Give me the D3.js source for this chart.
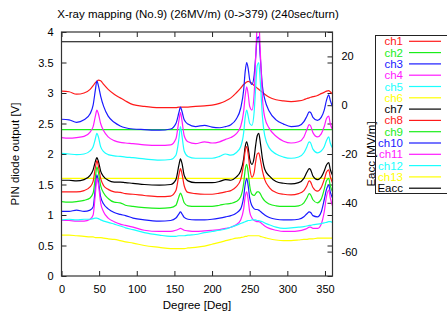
<!DOCTYPE html>
<html>
<head>
<meta charset="utf-8">
<script src="https://cdn.jsdelivr.net/npm/d3@7"></script>
<style>
  body { margin: 0; background: #fff; }
  svg { font-family: "Liberation Sans", Arial, sans-serif; }
  .tick text { font-size: 11px; fill: #000; }
</style>
</head>
<body>
<svg id="chart" width="447" height="312"></svg>
<script>
// degree positions shared by the measured channels
const degrees = [
  0, 10, 20, 30, 38, 42, 45, 47, 49, 52,
  56, 62, 70, 78, 85, 95, 110, 130, 145, 152,
  156, 158, 160, 163, 168, 178, 190, 200, 210, 218,
  225, 232, 238, 242, 244, 246, 248, 250, 253, 256,
  258, 260, 262, 264, 267, 270, 276, 285, 295, 305,
  315, 322, 326, 329, 331, 334, 340, 345, 349, 352,
  355, 357, 360];

const ch1 = [
  3.03, 3.02, 2.98, 3.00, 3.06, 3.12, 3.17, 3.19, 3.21, 3.20,
  3.14, 3.06, 2.98, 2.92, 2.87, 2.81, 2.78, 2.76, 2.76, 2.76,
  2.77, 2.77, 2.77, 2.77, 2.77, 2.78, 2.79, 2.80, 2.83, 2.87,
  2.92, 3.00, 3.08, 3.14, 3.16, 3.18, 3.19, 3.18, 3.16, 3.12,
  3.10, 3.08, 3.06, 3.04, 3.01, 2.98, 2.93, 2.89, 2.87, 2.86,
  2.87, 2.89, 2.91, 2.92, 2.93, 2.94, 2.96, 2.99, 3.01, 3.03,
  3.04, 3.02, 2.98];
const ch3 = [
  2.57, 2.56, 2.52, 2.56, 2.66, 2.80, 3.05, 3.20, 3.12, 2.95,
  2.78, 2.62, 2.52, 2.46, 2.43, 2.41, 2.40, 2.39, 2.41, 2.50,
  2.68, 2.77, 2.70, 2.56, 2.49, 2.45, 2.47, 2.44, 2.43, 2.45,
  2.48, 2.57, 2.75, 3.05, 3.35, 3.50, 3.40, 3.22, 3.14, 3.30,
  3.60, 3.90, 3.92, 3.60, 3.10, 2.90, 2.70, 2.56, 2.49, 2.45,
  2.46, 2.53, 2.62, 2.69, 2.68, 2.60, 2.55, 2.60, 2.72, 2.88,
  2.97, 2.88, 2.78];
const ch4 = [
  2.27, 2.26, 2.27, 2.29, 2.36, 2.45, 2.62, 2.72, 2.66, 2.50,
  2.38, 2.28, 2.22, 2.19, 2.18, 2.17, 2.15, 2.14, 2.15, 2.25,
  2.55, 2.68, 2.55, 2.30, 2.20, 2.17, 2.20, 2.18, 2.20, 2.24,
  2.27, 2.33, 2.45, 2.70, 2.95, 3.10, 2.98, 2.78, 2.72, 3.00,
  3.60, 4.10, 4.20, 3.70, 2.90, 2.60, 2.42, 2.29, 2.21, 2.18,
  2.20, 2.28, 2.40, 2.48, 2.46, 2.35, 2.28, 2.33, 2.45, 2.58,
  2.62, 2.50, 2.40];
const ch5 = [
  2.01, 2.00, 1.99, 2.00, 2.05, 2.12, 2.25, 2.34, 2.28, 2.12,
  2.04, 1.99, 1.97, 1.96, 1.95, 1.94, 1.92, 1.90, 1.91, 1.98,
  2.25, 2.45, 2.30, 2.05, 1.96, 1.93, 1.93, 1.93, 1.96, 2.00,
  1.98, 2.02, 2.12, 2.35, 2.60, 2.72, 2.62, 2.50, 2.47, 2.70,
  3.10, 3.45, 3.50, 3.20, 2.60, 2.30, 2.10, 2.00, 1.95, 1.93,
  1.95, 2.02, 2.12, 2.20, 2.18, 2.08, 2.02, 2.05, 2.12, 2.22,
  2.28, 2.18, 2.10];
const ch7 = [
  1.57, 1.57, 1.56, 1.58, 1.65, 1.74, 1.88, 1.94, 1.88, 1.72,
  1.63, 1.57, 1.54, 1.54, 1.53, 1.52, 1.50, 1.49, 1.50, 1.58,
  1.82, 1.92, 1.85, 1.65, 1.56, 1.53, 1.53, 1.53, 1.55, 1.58,
  1.57, 1.62, 1.72, 1.92, 2.12, 2.20, 2.10, 1.92, 1.83, 1.95,
  2.15, 2.30, 2.34, 2.20, 1.92, 1.75, 1.64, 1.55, 1.52, 1.51,
  1.53, 1.60, 1.70, 1.76, 1.74, 1.64, 1.58, 1.62, 1.72, 1.82,
  1.86, 1.75, 1.65];
const ch8 = [
  1.38, 1.38, 1.38, 1.40, 1.46, 1.55, 1.78, 1.89, 1.80, 1.60,
  1.48, 1.42, 1.38, 1.37, 1.35, 1.34, 1.32, 1.30, 1.31, 1.40,
  1.66, 1.76, 1.68, 1.48, 1.37, 1.35, 1.34, 1.34, 1.36, 1.38,
  1.40, 1.46, 1.58, 1.85, 2.05, 2.12, 2.00, 1.78, 1.62, 1.70,
  1.88, 2.00, 2.02, 1.92, 1.72, 1.58, 1.45, 1.37, 1.34, 1.33,
  1.35, 1.40, 1.48, 1.56, 1.54, 1.45, 1.39, 1.45, 1.58, 1.70,
  1.74, 1.63, 1.53];
const ch9 = [
  1.22, 1.21, 1.22, 1.24, 1.28, 1.36, 1.62, 1.79, 1.70, 1.48,
  1.36, 1.27, 1.21, 1.20, 1.16, 1.14, 1.12, 1.11, 1.12, 1.16,
  1.30, 1.36, 1.31, 1.20, 1.15, 1.14, 1.14, 1.14, 1.16, 1.18,
  1.19, 1.22, 1.30, 1.52, 1.74, 1.83, 1.70, 1.48, 1.34, 1.32,
  1.35, 1.38, 1.38, 1.35, 1.28, 1.23, 1.18, 1.15, 1.14, 1.14,
  1.15, 1.20, 1.28, 1.35, 1.33, 1.25, 1.20, 1.26, 1.42, 1.56,
  1.60, 1.48, 1.38];
const ch10 = [
  1.06, 1.06, 1.08, 1.06, 1.08, 1.13, 1.45, 1.66, 1.55, 1.30,
  1.18, 1.10, 1.04, 1.01, 0.99, 0.95, 0.92, 0.90, 0.91, 0.95,
  1.02, 1.05, 1.02, 0.96, 0.93, 0.92, 0.92, 0.93, 0.95, 0.97,
  0.99, 1.03, 1.10, 1.30, 1.50, 1.60, 1.48, 1.28, 1.15, 1.10,
  1.09, 1.09, 1.08, 1.06, 1.03, 1.00, 0.96, 0.93, 0.92, 0.92,
  0.93, 0.97, 1.02, 1.05, 1.04, 0.99, 0.97, 1.05, 1.25, 1.42,
  1.49, 1.38, 1.28];
const ch11 = [
  0.91, 0.91, 0.90, 0.90, 0.93, 1.00, 1.35, 1.60, 1.50, 1.20,
  1.05, 0.95, 0.89, 0.85, 0.83, 0.80, 0.75, 0.73, 0.73, 0.75,
  0.77, 0.78, 0.77, 0.75, 0.74, 0.73, 0.74, 0.75, 0.76, 0.78,
  0.80, 0.84, 0.92, 1.10, 1.30, 1.38, 1.25, 1.05, 0.95, 0.91,
  0.90, 0.89, 0.89, 0.88, 0.85, 0.82, 0.78, 0.75, 0.73, 0.73,
  0.74, 0.76, 0.78, 0.80, 0.80, 0.78, 0.78, 0.85, 1.05, 1.30,
  1.41, 1.28, 1.15];
const ch12 = [
  0.92, 0.93, 0.92, 0.93, 0.93, 0.94, 0.95, 0.95, 0.94, 0.92,
  0.90, 0.88, 0.85, 0.82, 0.79, 0.76, 0.71, 0.67, 0.65, 0.65,
  0.66, 0.66, 0.66, 0.66, 0.67, 0.68, 0.71, 0.73, 0.75, 0.77,
  0.80, 0.83, 0.86, 0.88, 0.89, 0.90, 0.91, 0.91, 0.92, 0.92,
  0.92, 0.91, 0.91, 0.90, 0.89, 0.87, 0.84, 0.80, 0.78, 0.79,
  0.80, 0.81, 0.82, 0.83, 0.83, 0.84, 0.85, 0.86, 0.87, 0.88,
  0.89, 0.89, 0.88];
const ch13 = [
  0.67, 0.67, 0.66, 0.65, 0.64, 0.64, 0.63, 0.63, 0.63, 0.63,
  0.62, 0.61, 0.60, 0.58, 0.56, 0.54, 0.50, 0.47, 0.45, 0.45,
  0.45, 0.45, 0.45, 0.45, 0.46, 0.47, 0.49, 0.52, 0.55, 0.58,
  0.60, 0.62, 0.63, 0.64, 0.65, 0.65, 0.66, 0.66, 0.66, 0.66,
  0.66, 0.66, 0.66, 0.65, 0.64, 0.63, 0.61, 0.59, 0.58, 0.58,
  0.59, 0.60, 0.60, 0.61, 0.61, 0.61, 0.62, 0.62, 0.62, 0.62,
  0.62, 0.62, 0.62];

// flat channels and the cavity field (right axis)
const flatDeg = [0, 360];
const ch2 = [2.4, 2.4];
const ch6 = [1.6, 1.6];
const eacc = [26, 26];

const names = ["ch1", "ch2", "ch3", "ch4", "ch5", "ch6", "ch7",
               "ch8", "ch9", "ch10", "ch11", "ch12", "ch13", "Eacc"];
const colors = ["#ff1a1a", "#1aee1a", "#1a1aff", "#ff1aff", "#1affff", "#ffff00", "#000000",
                "#ff1a1a", "#1aee1a", "#1a1aff", "#ff1aff", "#1affff", "#ffff00", "#000000"];

const xTicks = [0, 50, 100, 150, 200, 250, 300, 350];
const yTicks = [0, 0.5, 1, 1.5, 2, 2.5, 3, 3.5, 4];
const y2Ticks = [-60, -40, -20, 0, 20];

const series = [
  { x: degrees, y: ch1 }, { x: flatDeg, y: ch2 }, { x: degrees, y: ch3 },
  { x: degrees, y: ch4 }, { x: degrees, y: ch5 }, { x: flatDeg, y: ch6 },
  { x: degrees, y: ch7 }, { x: degrees, y: ch8 }, { x: degrees, y: ch9 },
  { x: degrees, y: ch10 }, { x: degrees, y: ch11 }, { x: degrees, y: ch12 },
  { x: degrees, y: ch13 }, { x: flatDeg, y: eacc, right: true }
];

const svg = d3.select("#chart");
const box = { left: 61.5, right: 332.5, top: 32, bottom: 276 };

const x = d3.scaleLinear().domain([0, 360]).range([box.left, box.right]);
const y = d3.scaleLinear().domain([0, 4]).range([box.bottom, box.top]);
const y2 = d3.scaleLinear().domain([-70, 30]).range([box.bottom, box.top]);

svg.append("clipPath").attr("id", "plotclip")
  .append("rect").attr("x", box.left).attr("y", box.top)
  .attr("width", box.right - box.left).attr("height", box.bottom - box.top);

// axes with inward ticks
svg.append("g").attr("transform", `translate(${box.left},0)`)
  .call(d3.axisLeft(y).tickValues(yTicks).tickSize(-5).tickPadding(8)
    .tickFormat(d => String(d)))
  .call(g => g.select(".domain").remove());
svg.append("g").attr("transform", `translate(${box.right},0)`)
  .call(d3.axisRight(y).tickValues(yTicks).tickSize(-5).tickFormat(""))
  .call(g => g.select(".domain").remove());
svg.append("g").attr("transform", `translate(${box.right},0)`)
  .call(d3.axisRight(y2).tickValues(y2Ticks).tickSize(-5).tickPadding(9)
    .tickFormat(d => String(d)))
  .call(g => g.select(".domain").remove());
svg.append("g").attr("transform", `translate(0,${box.bottom})`)
  .call(d3.axisBottom(x).tickValues(xTicks).tickSize(-5).tickPadding(9)
    .tickFormat(d => String(d)))
  .call(g => g.select(".domain").remove());
svg.append("g").attr("transform", `translate(0,${box.top})`)
  .call(d3.axisTop(x).tickValues(xTicks).tickSize(-5).tickFormat(""))
  .call(g => g.select(".domain").remove());
svg.selectAll(".tick line").attr("stroke", "#222");

const plot = svg.append("g").attr("clip-path", "url(#plotclip)");
const line = d3.line().curve(d3.curveMonotoneX);

series.forEach((s, i) => {
  const ys = s.right ? y2 : y;
  plot.append("path")
    .attr("d", line(s.x.map((d, k) => [x(d), ys(s.y[k])])))
    .attr("fill", "none")
    .attr("stroke", colors[i])
    .attr("stroke-width", 1.2);
});

svg.append("rect")
  .attr("x", box.left).attr("y", box.top)
  .attr("width", box.right - box.left).attr("height", box.bottom - box.top)
  .attr("fill", "none").attr("stroke", "#333").attr("stroke-width", 1.2);

// titles
svg.append("text").attr("x", 198).attr("y", 18).attr("text-anchor", "middle")
  .attr("font-size", 11.5).text("X-ray mapping (No.9) (26MV/m) (0->379) (240sec/turn)");
svg.append("text").attr("x", 197).attr("y", 309).attr("text-anchor", "middle")
  .attr("font-size", 11.5).text("Degree [Deg]");
svg.append("text").attr("transform", "translate(19,154) rotate(-90)")
  .attr("text-anchor", "middle").attr("font-size", 11.5).text("PIN diode output  [V]");
svg.append("text").attr("transform", "translate(375,154) rotate(-90)")
  .attr("text-anchor", "middle").attr("font-size", 11.5).text("Eacc [MV/m]");

// legend
const key = svg.append("g");
key.append("rect").attr("x", 375.5).attr("y", 35.5).attr("width", 80).attr("height", 158)
  .attr("fill", "none").attr("stroke", "#222");
names.forEach((n, i) => {
  const ly = 41.3 + i * 11.3;
  key.append("text").attr("x", 403).attr("y", ly + 4).attr("text-anchor", "end")
    .attr("font-size", 11.5).attr("fill", colors[i]).text(n);
  key.append("line").attr("x1", 409).attr("x2", 441).attr("y1", ly).attr("y2", ly)
    .attr("stroke", colors[i]).attr("stroke-width", 1.2);
});
</script>
</body>
</html>
